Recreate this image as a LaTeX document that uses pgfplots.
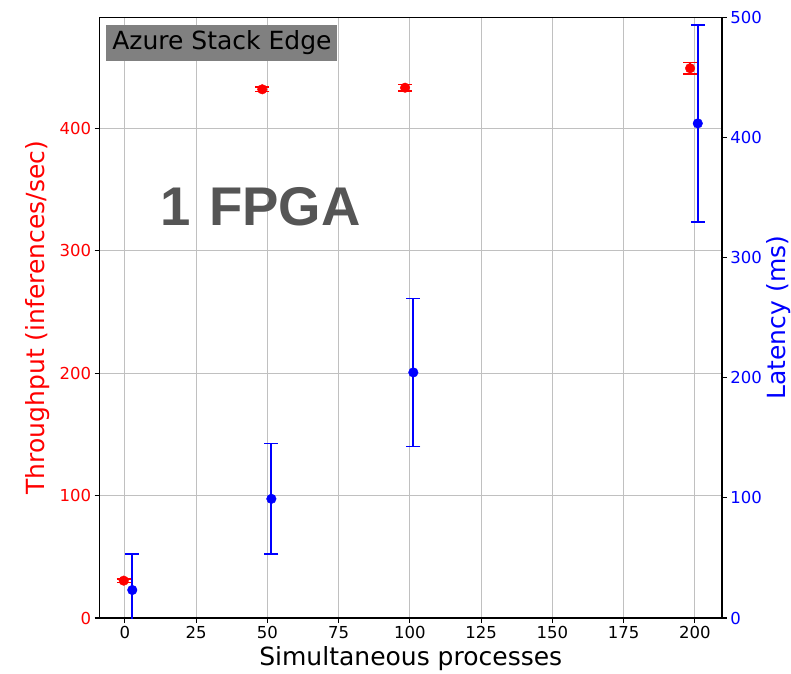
\documentclass[border=0pt]{standalone}
\usepackage{pgfplots}
\pgfplotsset{compat=1.18}
\usepackage{fontspec}
\setmainfont{DejaVu Sans}
\newfontfamily\helbold{Liberation Sans}
\definecolor{gridgray}{HTML}{C0C0C0}
\definecolor{boxgray}{HTML}{808080}
\definecolor{fpga}{HTML}{555555}
\begin{document}
\begin{tikzpicture}
\path[use as bounding box] (-99.5pt,-55pt) rectangle (691.5pt,618pt);
\pgfplotsset{
  common/.style={
    at={(0pt,0pt)}, anchor=south west,
    scale only axis, width=622.5pt, height=600.7pt,
    xmin=-8.9, xmax=209.5,
    tick align=outside, major tick length=4.8pt,
    axis line style={line width=1.1pt, black},
    tick style={line width=1.1pt, black},
    /pgf/number format/assume math mode=true,
    ticklabel style={font=\fontsize{16.5}{19}\selectfont},
    label style={font=\fontsize{25}{30}\selectfont},
  }
}
\begin{axis}[
  common,
  ymin=0, ymax=490.6,
  xtick={0,25,...,200}, ytick={0,100,...,400},
  xtick pos=bottom, ytick pos=left,
  grid=major, grid style={gridgray, line width=1.1pt},
  yticklabel style={red},
  xlabel={Simultaneous processes},
  ylabel={Throughput (inferences/sec)},
  xlabel style={at={(axis description cs:0.5,-0.0783)}, anchor=base},
  ylabel style={at={(axis description cs:-0.0988,0.5)}, anchor=center, red},
]
\addplot[only marks, mark=*, mark size=4.8pt, red,
  error bars/.cd, y dir=both, y explicit,
  error bar style={line width=1.5pt, red},
  error mark options={rotate=90, mark size=7pt, line width=1.5pt, red}]
  table[x=x, y=y, y error=e, row sep=\\] {
  x y e \\
  -0.4 30.5 1.5 \\
  48.2 431.8 2 \\
  98.3 433.1 2.5 \\
  198.3 449.0 4.8 \\
};
\node[anchor=north west, fill=boxgray, minimum width=231pt, minimum height=35.7pt,
  inner sep=0pt, font=\fontsize{25}{30}\selectfont]
  at (axis description cs:0.0108,0.9872) {Azure Stack Edge};
\node[anchor=base west, text=fpga, inner sep=0pt,
  font=\helbold\bfseries\fontsize{54.5}{60}\selectfont]
  at (axis description cs:0.0975,0.6526) {1\hspace{0.06em} FPGA};
\end{axis}
\begin{axis}[
  common,
  ymin=0, ymax=500,
  axis x line=none, axis y line*=right,
  ytick={0,100,...,500},
  yticklabel style={blue},
  ylabel={Latency (ms)},
  ylabel style={at={(axis description cs:1.0908,0.5)}, anchor=center, blue},
]
\addplot[only marks, mark=*, mark size=4.8pt, blue,
  error bars/.cd, y dir=both, y explicit,
  error bar style={line width=2pt, blue},
  error mark options={rotate=90, mark size=7pt, line width=1.5pt, blue}]
  table[x=x, y=y, y error=e, row sep=\\] {
  x y e \\
  2.6 23.3 30 \\
  51.4 99.2 46 \\
  101.2 204.4 61.5 \\
  201.0 411.7 82 \\
};
\end{axis}
\end{tikzpicture}
\end{document}
